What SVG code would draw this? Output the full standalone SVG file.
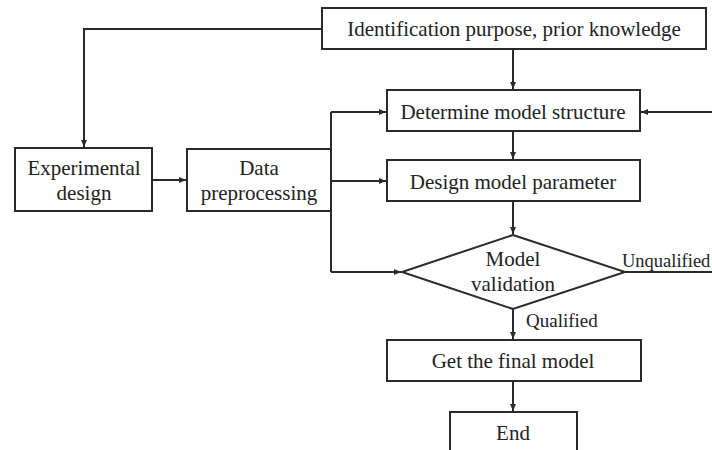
<svg xmlns="http://www.w3.org/2000/svg" width="712" height="450" viewBox="0 0 712 450">
<style>
.box{fill:#fff;stroke:#2a2a2a;stroke-width:2}
.ln{fill:none;stroke:#2a2a2a;stroke-width:2}
.t{font-family:"Liberation Serif","Times New Roman",serif;font-size:21px;fill:#222;text-anchor:middle}
.s{font-family:"Liberation Serif","Times New Roman",serif;font-size:19px;fill:#222}
</style>
<defs>
<marker id="ah" markerUnits="userSpaceOnUse" markerWidth="8" markerHeight="8" refX="7" refY="4" orient="auto">
<path d="M0,1 L7,4 L0,7 z" fill="#2a2a2a"/>
</marker>
</defs>
<rect width="712" height="450" fill="#fff"/>
<g id="connectors">
<path class="ln" d="M322,29 H84 V147" marker-end="url(#ah)"/>
<path class="ln" d="M152,180 H186" marker-end="url(#ah)"/>
<path class="ln" d="M331,112 V272"/>
<path class="ln" d="M331,112 H386" marker-end="url(#ah)"/>
<path class="ln" d="M331,181 H386" marker-end="url(#ah)"/>
<path class="ln" d="M331,272 H401" marker-end="url(#ah)"/>
<path class="ln" d="M513,49 V89" marker-end="url(#ah)"/>
<path class="ln" d="M712,112 H641" marker-end="url(#ah)"/>
<path class="ln" d="M513,131 V159" marker-end="url(#ah)"/>
<path class="ln" d="M513,201 V234" marker-end="url(#ah)"/>
<path class="ln" d="M625,272 H712"/>
<path class="ln" d="M513,309 V339" marker-end="url(#ah)"/>
<path class="ln" d="M513,381 V411" marker-end="url(#ah)"/>
<text class="s" x="622" y="267" style="font-size:18.5px">Unqualified</text>
<text class="s" x="526" y="327">Qualified</text>
</g>
<g id="n-ident">
<rect class="box" x="322" y="8" width="384" height="41"/>
<text class="t" x="514" y="36">Identification purpose, prior knowledge</text>
</g>
<g id="n-exp">
<rect class="box" x="15" y="148" width="137" height="63"/>
<text class="t" x="84" y="175">Experimental</text>
<text class="t" x="84" y="200">design</text>
</g>
<g id="n-data">
<rect class="box" x="187" y="149" width="144" height="62"/>
<text class="t" x="259" y="175">Data</text>
<text class="t" x="259" y="200">preprocessing</text>
</g>
<g id="n-struct">
<rect class="box" x="387" y="90" width="253" height="41"/>
<text class="t" x="513" y="119">Determine model structure</text>
</g>
<g id="n-param">
<rect class="box" x="387" y="160" width="253" height="41"/>
<text class="t" x="513" y="189">Design model parameter</text>
</g>
<g id="n-valid">
<polygon class="box" points="513,235 625,272 513,309 402,272"/>
<text class="t" x="513" y="266">Model</text>
<text class="t" x="513" y="291">validation</text>
</g>
<g id="n-final">
<rect class="box" x="387" y="340" width="254" height="41"/>
<text class="t" x="513" y="368">Get the final model</text>
</g>
<g id="n-end">
<rect class="box" x="450" y="412" width="127" height="50"/>
<text class="t" x="513" y="440">End</text>
</g>
</svg>
